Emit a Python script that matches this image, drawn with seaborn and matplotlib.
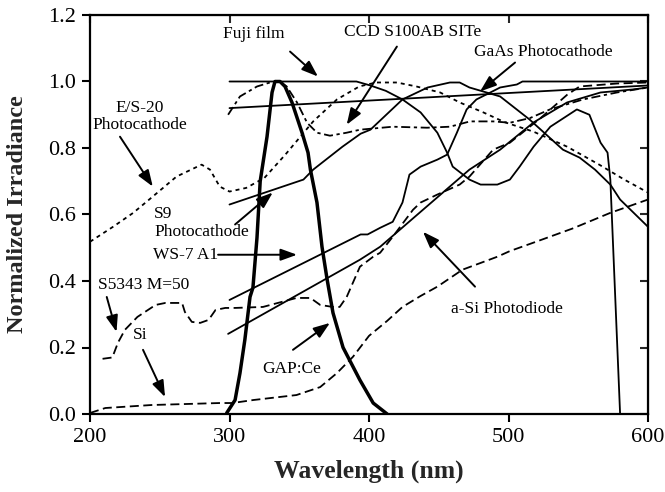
import matplotlib
matplotlib.use("Agg")
import matplotlib.pyplot as plt
import seaborn as sns

# ---------------- data ----------------
fuji_x = [300, 391, 401, 412, 424, 437, 449, 456, 460, 472, 480, 492, 501, 508, 518, 530, 549, 558, 566, 571, 573, 580]
fuji_y = [1.0, 1.0, 0.988, 0.972, 0.946, 0.907, 0.846, 0.786, 0.744, 0.705, 0.69, 0.69, 0.705, 0.744, 0.804, 0.864, 0.916, 0.9, 0.816, 0.786, 0.705, 0.0]

gaas_x = [300, 600]
gaas_y = [0.92, 0.988]

s9_x = [300, 353, 360, 381, 394, 401, 424, 442, 458, 465, 472, 494, 515, 539, 551, 562, 573, 580, 600]
s9_y = [0.63, 0.705, 0.735, 0.804, 0.843, 0.855, 0.946, 0.982, 0.997, 0.997, 0.982, 0.955, 0.886, 0.795, 0.771, 0.735, 0.69, 0.645, 0.563]

ws7_x = [300, 394, 399, 408, 417, 424, 429, 437, 449, 456, 463, 470, 477, 487, 494, 506, 510, 600]
ws7_y = [0.343, 0.54, 0.54, 0.56, 0.578, 0.636, 0.72, 0.744, 0.765, 0.78, 0.846, 0.916, 0.946, 0.967, 0.982, 0.991, 1.0, 1.0]

asi_x = [299, 393.5, 408, 472, 494, 518, 542, 566, 589, 600]
asi_y = [0.241, 0.464, 0.503, 0.735, 0.795, 0.877, 0.937, 0.967, 0.976, 0.982]

s5343_x = [209, 216, 220, 225, 234, 247, 254, 266, 268, 273, 279, 285, 290, 297, 304, 324, 348, 358, 365,
           374, 379, 384, 393.5, 403, 408, 417, 431.5, 437, 449, 465, 472, 489, 501, 523, 542, 551, 578, 600]
s5343_y = [0.166, 0.17, 0.214, 0.253, 0.292, 0.328, 0.334, 0.334, 0.307, 0.277, 0.274, 0.283, 0.313, 0.319, 0.319,
           0.322, 0.349, 0.349, 0.328, 0.322, 0.322, 0.352, 0.443, 0.473, 0.485, 0.533, 0.614, 0.636, 0.66, 0.69,
           0.714, 0.795, 0.816, 0.89, 0.96, 0.985, 0.994, 0.997]

si_x = [200, 211, 244, 293, 302, 317, 348, 365, 377, 388.5, 400, 413, 424, 437, 449, 467, 492, 501, 521, 546, 573, 600]
si_y = [0.003, 0.018, 0.027, 0.033, 0.033, 0.042, 0.057, 0.081, 0.123, 0.172, 0.235, 0.28, 0.322, 0.355, 0.383,
        0.434, 0.473, 0.49, 0.52, 0.558, 0.605, 0.645]

es20_x = [200, 216.5, 231, 245, 262, 280, 286, 293, 300, 312, 325, 340, 350, 360, 377, 393, 405, 420, 434, 451,
          465, 482, 497, 518, 542, 565, 583, 600]
es20_y = [0.518, 0.563, 0.605, 0.654, 0.714, 0.75, 0.735, 0.684, 0.669, 0.68, 0.71, 0.78, 0.83, 0.88, 0.946, 0.985,
          0.997, 0.997, 0.985, 0.967, 0.937, 0.907, 0.878, 0.849, 0.804, 0.75, 0.705, 0.666]

ccd_x = [299, 307.5, 319.7, 329, 336, 341, 348.4, 355.6, 362.7, 372, 384, 393.5, 417, 441.6, 458, 472.4, 489, 501,
         515.4, 529.7, 553.4, 577.8, 600]
ccd_y = [0.9, 0.955, 0.985, 0.997, 1.0, 0.985, 0.937, 0.876, 0.846, 0.837, 0.846, 0.855, 0.864, 0.861, 0.864, 0.88,
         0.88, 0.876, 0.89, 0.916, 0.946, 0.967, 0.982]

gap_x = [298, 304, 307.5, 311, 314.7, 316.8, 319.7, 322, 326.9, 330.5, 332.6, 336.2, 339.8, 344.8, 352, 356.3, 358,
         362.7, 366.3, 370, 374.2, 381.4, 393.5, 403, 413]
gap_y = [0.003, 0.042, 0.123, 0.223, 0.352, 0.38, 0.53, 0.70, 0.834, 0.967, 1.0, 1.0, 0.985, 0.937, 0.846, 0.786,
         0.735, 0.636, 0.503, 0.404, 0.304, 0.2, 0.102, 0.033, 0.0]

x_ticks = [200, 300, 400, 500, 600]
y_ticks = [0.0, 0.2, 0.4, 0.6, 0.8, 1.0, 1.2]
y_ticklabels = ["0.0", "0.2", "0.4", "0.6", "0.8", "1.0", "1.2"]

# labels: (text, x, y, ha)
labels = [
    ("Fuji film", 317.6, 1.142, "center"),
    ("CCD S100AB SITe", 431.5, 1.148, "center"),
    ("GaAs Photocathode", 524.7, 1.09, "center"),
    ("E/S-20\nPhotocathode", 235.8, 0.895, "center"),
    ("S9\nPhotocathode", 246.0, 0.575, "left"),
    ("WS-7 A1", 245.0, 0.479, "left"),
    ("S5343 M=50", 205.7, 0.389, "left"),
    ("Si", 235.8, 0.238, "center"),
    ("GAP:Ce", 344.8, 0.136, "center"),
    ("a-Si Photodiode", 499.0, 0.316, "center"),
]
# arrows: (start_x, start_y, tip_x, tip_y)
arrows = [
    (343.4, 1.09, 363.4, 1.015),
    (420.0, 1.105, 384.0, 0.87),
    (504.7, 1.057, 479.6, 0.97),
    (221.5, 0.834, 245.0, 0.684),
    (304.0, 0.57, 331.0, 0.666),
    (291.8, 0.479, 348.4, 0.479),
    (212.0, 0.352, 219.0, 0.247),
    (238.0, 0.193, 253.8, 0.051),
    (345.5, 0.193, 372.0, 0.274),
    (476.0, 0.383, 438.7, 0.548),
]

# ---------------- style ----------------
sns.set_style("ticks")
plt.rcParams['font.family'] = ['Liberation Serif', 'DejaVu Serif']

fig = plt.figure(figsize=(6.65, 4.92), dpi=100)
ax = fig.add_axes([90 / 665, 1 - 414 / 492, 558 / 665, 399 / 492])

thin = 1.3
series = [
    (fuji_x, fuji_y, thin, "-"),
    (gaas_x, gaas_y, thin, "-"),
    (s9_x, s9_y, thin, "-"),
    (ws7_x, ws7_y, thin, "-"),
    (asi_x, asi_y, thin, "-"),
    (s5343_x, s5343_y, thin, (0, (5, 2.5))),
    (si_x, si_y, thin, (0, (5, 2.5))),
    (es20_x, es20_y, thin, (0, (2.2, 2.2))),
    (ccd_x, ccd_y, thin, (0, (5, 2, 1.8, 2))),
    (gap_x, gap_y, 2.5, "-"),
]
for xs, ys, lw, ls in series:
    sns.lineplot(x=xs, y=ys, ax=ax, color="black", linewidth=lw, linestyle=ls,
                 sort=False, estimator=None)

for text, x, y, ha in labels:
    ax.text(x, y, text, ha=ha, va="center", multialignment=ha, fontsize=12.5,
            color="black", linespacing=1.15)

for sx, sy, tx, ty in arrows:
    ax.annotate("", xy=(tx, ty), xytext=(sx, sy),
                arrowprops=dict(arrowstyle="-|>,head_length=0.55,head_width=0.2",
                                mutation_scale=18, color="black", lw=1.4,
                                shrinkA=0, shrinkB=0))

ax.set_xlim(200, 600)
ax.set_ylim(0, 1.2)
ax.set_xticks(x_ticks)
ax.set_xticklabels([str(v) for v in x_ticks])
ax.set_yticks(y_ticks)
ax.set_yticklabels(y_ticklabels)
ax.tick_params(axis="both", direction="out", length=6, width=1.5, labelsize=16, pad=4, colors="black")

for sp in ax.spines.values():
    sp.set_visible(True)
    sp.set_linewidth(1.6)
    sp.set_color("black")

top = ax.secondary_xaxis("top")
top.set_xticks(x_ticks)
top.tick_params(direction="in", length=6, width=1.5, labeltop=False)
top.set_xticklabels([])
right = ax.secondary_yaxis("right")
right.set_yticks(y_ticks)
right.tick_params(direction="in", length=6, width=1.5, labelright=False)
right.set_yticklabels([])

ax.set_xlabel("Wavelength (nm)", fontsize=18.5, fontweight="bold")
ax.set_ylabel("Normalized Irradiance", fontsize=17.5, fontweight="bold")
ax.xaxis.set_label_coords(0.5, -0.115)
ax.yaxis.set_label_coords(-0.112, 0.5)

fig.savefig("out.png", dpi=100)
